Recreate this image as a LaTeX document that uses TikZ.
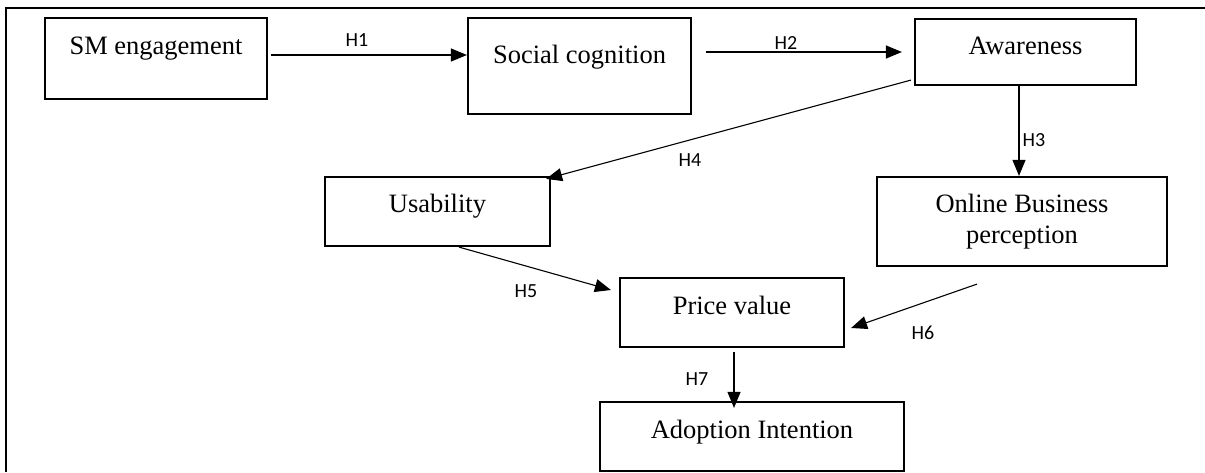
\documentclass[tikz,border=0pt]{standalone}
\usepackage{fontspec}
\setmainfont{Liberation Serif}
\newfontfamily\labfont{Carlito}
\usetikzlibrary{calc,arrows.meta}
\tikzset{
  box/.style={draw, line width=2.2pt, inner sep=0pt, font=\fontsize{26.5}{31}\selectfont, anchor=base},
  conn/.style={line width=1.1pt, -{Triangle[length=16pt,width=13pt]}},
  hlab/.style={font=\labfont\fontsize{20}{22}\selectfont, inner sep=0pt}
}
\begin{document}
\begin{tikzpicture}[x=1pt,y=1pt]
\useasboundingbox (0,0) rectangle (1205,472);
% outer frame (partial)
\draw[line width=2.8pt] (6,0) -- (6,464) -- (1205,464);

\node[box, minimum width=222pt, text height=37pt, text depth=44pt] (sm) at (156,417) {SM engagement};
\node[box, minimum width=223pt, text height=46pt, text depth=50pt] (sc) at (579.5,408) {Social cognition};
\node[box, minimum width=221pt, text height=36pt, text depth=30pt] (aw) at (1025.5,417) {Awareness};
\node[box, minimum width=225pt, text height=36pt, text depth=33pt] (us) at (437.5,259) {Usability};
\node[box, anchor=center, align=center, minimum width=290pt, minimum height=89pt] (obp) at (1022,250.5) {Online Business\\perception};
\node[box, minimum width=224pt, text height=36pt, text depth=33pt] (pv) at (732,158) {Price value};
\node[box, minimum width=304pt, text height=36pt, text depth=33pt] (ai) at (752,34) {Adoption Intention};

\draw[conn] ($(sm.east)+(3,3.5)$) -- ($(sc.west)+(0,11)$);
\node[hlab] (h1) at (357,432) {H1};
\draw[conn] ($(sc.east)+(14,14)$) -- ($(aw.west)+(-12,0)$);
\node[hlab] (h2) at (786,429) {H2};
\draw[conn] ($(aw.south west)+(-3,6)$) -- ($(us.north east)+(-5,-3)$);
\node[hlab] (h4) at (690,312) {H4};
\draw[conn] ($(aw.south)+(-6.5,0)$) -- ($(obp.north)+(-3,0)$);
\node[hlab] (h3) at (1034,332) {H3};
\draw[conn] ($(us.south)+(21.5,0)$) -- ($(pv.west)+(-8,22.5)$);
\node[hlab] (h5) at (526,181) {H5};
\draw[conn] ($(obp.south)+(-45,-17)$) -- ($(pv.east)+(6,-15.5)$);
\node[hlab] (h6) at (923,139) {H6};
\draw[conn] ($(pv.south)+(2,-4)$) -- ($(ai.north)+(-18,-7)$);
\node[hlab] (h7) at (697,93) {H7};
\end{tikzpicture}
\end{document}
